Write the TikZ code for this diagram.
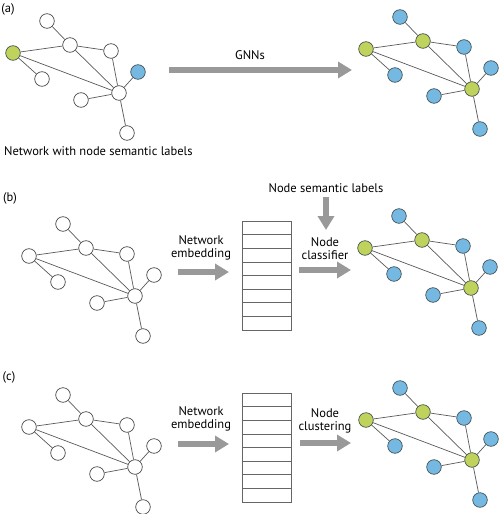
\documentclass[tikz,border=0pt]{standalone}
\usepackage{fontspec}
\setmainfont{PT Sans}
\usepackage{tikz}
\usetikzlibrary{arrows.meta}

\definecolor{nodegreen}{RGB}{191,211,92}
\definecolor{nodeblue}{RGB}{117,185,226}
\definecolor{rim}{RGB}{70,85,85}
\definecolor{arrowgray}{RGB}{153,153,153}

\tikzset{
  vtx/.style={circle, draw=rim, line width=0.7pt, minimum size=14.6pt, inner sep=0pt},
  wv/.style={vtx, fill=white, draw=black!70},
  gv/.style={vtx, fill=nodegreen},
  bv/.style={vtx, fill=nodeblue},
  edge/.style={draw=black!65, line width=0.7pt},
  rowline/.style={draw=black!60, line width=0.7pt},
  bigarrow/.style={draw=arrowgray, line width=6pt, -{Triangle[length=14pt, width=16pt]}},
  lbl/.style={font=\fontsize{12.5}{13}\selectfont, align=center, inner sep=0pt},
}

% ネットワーク図: #1 名前, #2 位置, #3 左の点, #4 ハブ, #5 右端の点, #6 その他
\newcommand{\drawnet}[6]{%
  \begin{scope}[shift={#2}]
    \node[#3] (#1-left) at (0,0) {};
    \node[#6] (#1-top) at (34,-32) {};
    \node[#4] (#1-hubA) at (57,-8) {};
    \node[#6] (#1-right) at (98,-2) {};
    \node[#5] (#1-far) at (125,19) {};
    \node[#6] (#1-low) at (29,26) {};
    \node[#4] (#1-hubB) at (106,40) {};
    \node[#6] (#1-near) at (68,47) {};
    \node[#6] (#1-bottom) at (114,80) {};
  \end{scope}
  \foreach \u/\v in {top/hubA, hubA/left, hubA/right, hubA/hubB, left/low,
                     left/hubB, right/hubB, far/hubB, near/hubB, bottom/hubB}
    \draw[edge] (#1-\u) -- (#1-\v);
}

\begin{document}
\begin{tikzpicture}[x=1pt, y=-1pt]
  \useasboundingbox (0,0) rectangle (499,514);

  %(a)
  \node[lbl] (tagA) at (8,9) {(a)};
  \drawnet{netA}{(13,53)}{gv}{wv}{bv}{wv}
  \drawnet{outA}{(366,49)}{gv}{gv}{bv}{bv}
  \node[lbl, anchor=west] (capA) at (4,151) {Network with node semantic labels};
  \node[lbl] (gnn) at (250,55) {GNNs};
  \coordinate (gnnS) at (169,70);
  \coordinate (gnnE) at (352,70);
  \draw[bigarrow] (gnnS) -- (gnnE);

  %(b)
  \node[lbl] (tagB) at (10,198) {(b)};
  \drawnet{netB}{(29,256)}{wv}{wv}{wv}{wv}
  \drawnet{outB}{(365,248)}{gv}{gv}{bv}{bv}
  \node[lbl] (embTxtB) at (201,248) {Network\\embedding};
  \coordinate (embSB) at (178,272);
  \coordinate (embEB) at (229,272);
  \draw[bigarrow] (embSB) -- (embEB);
  \node[draw=black!60, line width=0.7pt, minimum width=49pt, minimum height=109pt,
        inner sep=0pt, anchor=north west] (embB) at (242,221) {};
  \foreach \k in {1,...,7}
    \draw[rowline] ([yshift=-\k*13.625pt]embB.north west) -- ([yshift=-\k*13.625pt]embB.north east);
  \node[lbl] (sem) at (326,188) {Node semantic labels};
  \coordinate (semS) at (326,197);
  \coordinate (semE) at (326,230);
  \draw[bigarrow] (semS) -- (semE);
  \node[lbl] (clsTxt) at (325,249) {Node\\classifier};
  \coordinate (clsS) at (299,270);
  \coordinate (clsE) at (351,270);
  \draw[bigarrow] (clsS) -- (clsE);

  %(c)
  \node[lbl] (tagC) at (9,377) {(c)};
  \drawnet{netC}{(29,427)}{wv}{wv}{wv}{wv}
  \drawnet{outC}{(366,420)}{gv}{gv}{bv}{bv}
  \node[lbl] (embTxtC) at (201,419) {Network\\embedding};
  \coordinate (embSC) at (178,444);
  \coordinate (embEC) at (229,444);
  \draw[bigarrow] (embSC) -- (embEC);
  \node[draw=black!60, line width=0.7pt, minimum width=49pt, minimum height=109pt,
        inner sep=0pt, anchor=north west] (embC) at (242,393) {};
  \foreach \k in {1,...,7}
    \draw[rowline] ([yshift=-\k*13.625pt]embC.north west) -- ([yshift=-\k*13.625pt]embC.north east);
  \node[lbl] (clsTxtC) at (325,421) {Node\\clustering};
  \coordinate (cluS) at (300,443);
  \coordinate (cluE) at (351,443);
  \draw[bigarrow] (cluS) -- (cluE);
\end{tikzpicture}
\end{document}
